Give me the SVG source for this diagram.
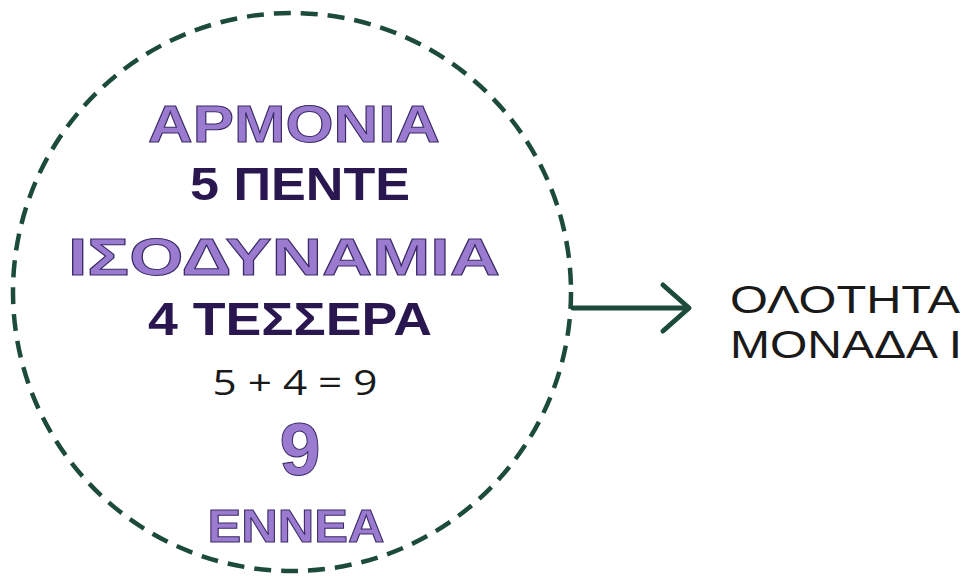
<svg xmlns="http://www.w3.org/2000/svg" width="975" height="576" viewBox="0 0 975 576">
<style>
.pl{font-family:"Liberation Sans","DejaVu Sans",sans-serif;font-weight:bold;fill:#9b7bcf;stroke:#3a2a66;stroke-width:1;text-anchor:middle}
.dk{font-family:"Liberation Sans","DejaVu Sans",sans-serif;font-weight:bold;fill:#2a1750;text-anchor:middle}
.bk{font-family:"Open Sans","DejaVu Sans",sans-serif;fill:#1a1a1a;text-anchor:middle}
.rt{font-family:"Liberation Sans","DejaVu Sans",sans-serif;fill:#1a1a1a;text-anchor:middle}
.ring{fill:none;stroke:#1c4b3c;stroke-width:4.5;stroke-dasharray:17 10}
.conn{fill:none;stroke:#1c4b3c;stroke-width:5;stroke-linecap:round;stroke-linejoin:round}
</style>
<rect width="975" height="576" fill="#ffffff"/>
<g id="circle-node">
<circle class="ring" cx="292" cy="292" r="279"/>
<text class="pl" x="294" y="142" font-size="52" textLength="292" lengthAdjust="spacingAndGlyphs">ΑΡΜΟΝΙΑ</text>
<text class="dk" x="300" y="200" font-size="46" textLength="220" lengthAdjust="spacingAndGlyphs">5 ΠΕΝΤΕ</text>
<text class="pl" x="284" y="275" font-size="52" textLength="432" lengthAdjust="spacingAndGlyphs">ΙΣΟΔΥΝΑΜΙΑ</text>
<text class="dk" x="290" y="335" font-size="47" textLength="284" lengthAdjust="spacingAndGlyphs">4 ΤΕΣΣΕΡΑ</text>
<text class="bk" x="295" y="395" font-size="34" textLength="165" lengthAdjust="spacingAndGlyphs">5 + 4 = 9</text>
<text class="pl" x="300" y="475" font-size="74">9</text>
<text class="pl" x="296" y="542" font-size="46" textLength="177" lengthAdjust="spacingAndGlyphs">ΕΝΝΕΑ</text>
</g>
<g id="connectors">
<path class="conn" d="M573 308 H688"/>
<path class="conn" d="M663 285 L689 308 L663 331"/>
</g>
<g id="result-node">
<text class="rt" x="845" y="313" font-size="39" textLength="230" lengthAdjust="spacingAndGlyphs">ΟΛΟΤΗΤΑ</text>
<text class="rt" x="846" y="358" font-size="39" textLength="232" lengthAdjust="spacingAndGlyphs">ΜΟΝΑΔΑ Ι</text>
</g>
</svg>
